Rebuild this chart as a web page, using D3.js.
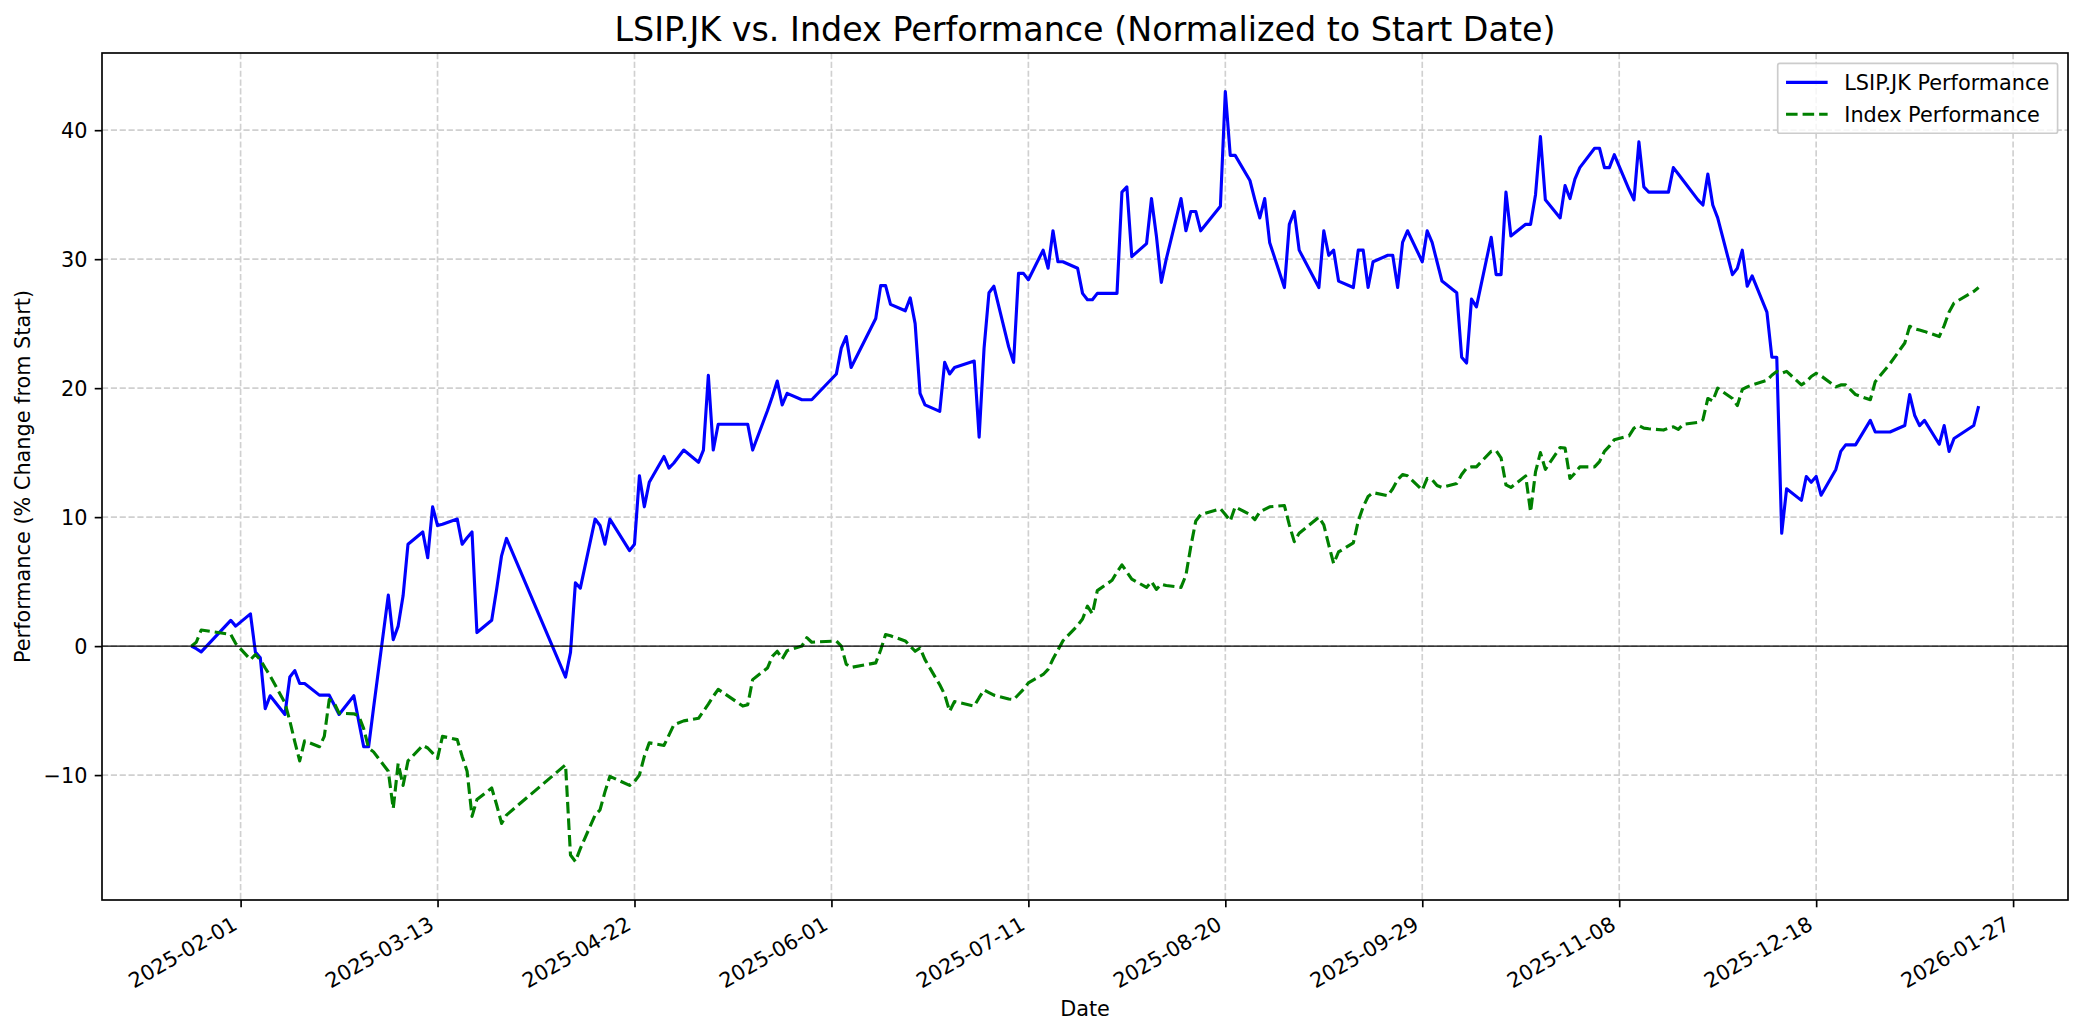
<!DOCTYPE html>
<html>
<head>
<meta charset="utf-8">
<script src="https://cdn.jsdelivr.net/npm/d3@7/dist/d3.min.js"></script>
<style>
html,body{margin:0;padding:0;background:#fff;}
svg{display:block;font-family:"DejaVu Sans",sans-serif;}
</style>
</head>
<body>
<svg id="chart" width="2084" height="1035"></svg>
<script>
// ---------------- DATA ----------------
const dates = [
"2025-01-22","2025-01-23","2025-01-24","2025-01-30","2025-01-31",
"2025-02-03","2025-02-04","2025-02-05","2025-02-06","2025-02-07",
"2025-02-10","2025-02-11","2025-02-12","2025-02-13","2025-02-14",
"2025-02-17","2025-02-18","2025-02-19","2025-02-20","2025-02-21",
"2025-02-24","2025-02-25","2025-02-26","2025-02-27","2025-02-28",
"2025-03-03","2025-03-04","2025-03-05","2025-03-06","2025-03-07",
"2025-03-10","2025-03-11","2025-03-12","2025-03-13","2025-03-14",
"2025-03-17","2025-03-18","2025-03-19","2025-03-20","2025-03-21",
"2025-03-24","2025-03-25","2025-03-26","2025-03-27",
"2025-04-08","2025-04-09","2025-04-10","2025-04-11",
"2025-04-14","2025-04-15","2025-04-16","2025-04-17",
"2025-04-21","2025-04-22","2025-04-23","2025-04-24","2025-04-25",
"2025-04-28","2025-04-29","2025-04-30","2025-05-02",
"2025-05-05","2025-05-06","2025-05-07","2025-05-08","2025-05-09",
"2025-05-14","2025-05-15","2025-05-16",
"2025-05-19","2025-05-20","2025-05-21","2025-05-22","2025-05-23",
"2025-05-26","2025-05-27","2025-05-28",
"2025-06-02","2025-06-03","2025-06-04","2025-06-05",
"2025-06-10","2025-06-11","2025-06-12","2025-06-13",
"2025-06-16","2025-06-17","2025-06-18","2025-06-19","2025-06-20",
"2025-06-23","2025-06-24","2025-06-25","2025-06-26",
"2025-06-30","2025-07-01","2025-07-02","2025-07-03","2025-07-04",
"2025-07-07","2025-07-08","2025-07-09","2025-07-10","2025-07-11",
"2025-07-14","2025-07-15","2025-07-16","2025-07-17","2025-07-18",
"2025-07-21","2025-07-22","2025-07-23","2025-07-24","2025-07-25",
"2025-07-28","2025-07-29","2025-07-30","2025-07-31","2025-08-01",
"2025-08-04","2025-08-05","2025-08-06","2025-08-07","2025-08-08",
"2025-08-11","2025-08-12","2025-08-13","2025-08-14","2025-08-15",
"2025-08-19","2025-08-20","2025-08-21","2025-08-22",
"2025-08-25","2025-08-26","2025-08-27","2025-08-28","2025-08-29",
"2025-09-01","2025-09-02","2025-09-03","2025-09-04",
"2025-09-08","2025-09-09","2025-09-10","2025-09-11","2025-09-12",
"2025-09-15","2025-09-16","2025-09-17","2025-09-18","2025-09-19",
"2025-09-22","2025-09-23","2025-09-24","2025-09-25","2025-09-26",
"2025-09-29","2025-09-30","2025-10-01","2025-10-02","2025-10-03",
"2025-10-06","2025-10-07","2025-10-08","2025-10-09","2025-10-10",
"2025-10-13","2025-10-14","2025-10-15","2025-10-16","2025-10-17",
"2025-10-20","2025-10-21","2025-10-22","2025-10-23","2025-10-24",
"2025-10-27","2025-10-28","2025-10-29","2025-10-30","2025-10-31",
"2025-11-03","2025-11-04","2025-11-05","2025-11-06","2025-11-07",
"2025-11-10","2025-11-11","2025-11-12","2025-11-13","2025-11-14",
"2025-11-17","2025-11-18","2025-11-19","2025-11-20","2025-11-21",
"2025-11-24","2025-11-25","2025-11-26","2025-11-27","2025-11-28",
"2025-12-01","2025-12-02","2025-12-03","2025-12-04","2025-12-05",
"2025-12-08","2025-12-09","2025-12-10","2025-12-11","2025-12-12",
"2025-12-15","2025-12-16","2025-12-17","2025-12-18","2025-12-19",
"2025-12-22","2025-12-23","2025-12-24","2025-12-26",
"2025-12-29","2025-12-30","2026-01-02",
"2026-01-05","2026-01-06","2026-01-07","2026-01-08","2026-01-09",
"2026-01-12","2026-01-13","2026-01-14","2026-01-15",
"2026-01-19","2026-01-20"
];

const lsipPerf = [
0,-0.2,-0.45,2.0,1.55,
2.5,-0.45,-0.9,-4.85,-3.85,
-5.3,-2.4,-1.9,-2.9,-2.9,
-3.8,-3.8,-3.8,-4.55,-5.3,
-3.85,-5.85,-7.8,-7.8,-4.8,
3.95,0.5,1.55,3.9,7.9,
8.85,6.85,10.8,9.35,9.45,
9.85,7.9,8.4,8.85,1.05,
2.0,4.4,7.0,8.35,
-2.4,-0.5,4.9,4.5,
9.85,9.35,7.9,9.85,
7.4,7.9,13.2,10.8,12.7,
14.7,13.8,14.2,15.2,
14.25,15.2,21.0,15.2,17.2,
17.2,17.2,15.2,
18.25,19.35,20.55,18.7,19.6,
19.1,19.1,19.1,
21.1,23.1,24.0,21.6,
25.4,27.95,27.95,26.5,
26.0,27.0,25.0,19.6,18.7,
18.2,22.0,21.1,21.6,
22.1,16.2,23.1,27.4,27.9,
23.2,22.0,28.9,28.9,28.4,
30.7,29.3,32.2,29.8,29.8,
29.3,27.35,26.85,26.85,27.35,
27.35,27.35,35.2,35.6,30.2,
31.2,34.7,31.8,28.2,30.0,
34.7,32.2,33.7,33.7,32.2,
34.1,43.0,38.05,38.05,
36.1,34.6,33.2,34.7,31.3,
27.8,32.7,33.7,30.7,
27.8,32.2,30.3,30.7,28.3,
27.8,30.7,30.7,27.8,29.8,
30.3,30.3,27.8,31.3,32.2,
29.8,32.2,31.3,29.8,28.3,
27.4,22.4,21.95,26.9,26.3,
31.7,28.8,28.8,35.2,31.8,
32.7,32.7,35.0,39.5,34.6,
33.2,35.7,34.7,36.2,37.1,
38.6,38.6,37.1,37.1,38.1,
35.4,34.6,39.1,35.6,35.2,
35.2,35.2,37.1,36.6,36.1,
34.6,34.2,36.6,34.2,33.2,
28.8,29.3,30.7,27.9,28.7,
25.9,22.4,22.4,8.75,12.2,
11.3,13.15,12.7,13.15,11.7,
13.7,15.1,15.6,15.6,
17.5,16.6,16.6,
17.1,19.5,17.9,17.1,17.5,
15.65,17.1,15.1,16.1,
17.1,18.6
];

const indexPerf = [
0,0.3,1.25,0.9,0.2,
-1.05,-0.65,-1.05,-1.7,-2.3,
-4.4,-5.8,-7.4,-8.9,-7.35,
-7.8,-7.0,-4.15,-4.4,-5.2,
-5.25,-5.4,-6.4,-7.9,-8.2,
-9.7,-12.6,-9.1,-10.8,-8.9,
-7.7,-7.9,-8.3,-8.7,-7.0,
-7.25,-8.55,-9.7,-13.2,-11.9,
-11.0,-12.3,-13.75,-13.1,
-9.2,-16.2,-16.7,-15.7,
-13.1,-12.7,-11.3,-10.1,
-10.8,-10.5,-10.0,-8.55,-7.5,
-7.7,-6.9,-6.1,-5.8,
-5.6,-5.05,-4.5,-3.9,-3.35,
-4.65,-4.55,-2.6,
-1.7,-0.8,-0.4,-1.0,-0.35,
0.0,0.65,0.3,
0.4,0.0,-1.4,-1.65,
-1.3,-0.3,0.9,0.8,
0.4,0.0,-0.4,-0.15,-1.05,
-3.0,-3.75,-5.05,-4.3,
-4.65,-4.0,-3.4,-3.6,-3.8,
-4.1,-4.15,-3.75,-3.35,-2.85,
-2.2,-1.8,-1.0,-0.3,0.4,
1.6,2.1,3.1,2.5,4.3,
5.1,5.75,6.3,5.75,5.2,
4.55,5.0,4.4,4.8,4.7,
4.55,5.5,7.75,9.7,10.2,
10.65,10.2,9.7,10.8,
10.2,9.8,10.4,10.6,10.8,
10.9,9.4,8.1,8.75,
10.0,9.4,7.85,6.4,7.3,
8.0,9.7,10.8,11.6,11.9,
11.65,12.2,12.9,13.3,13.2,
12.1,13.0,12.9,12.45,12.3,
12.6,13.3,13.8,13.9,13.9,
15.1,15.15,14.6,12.5,12.3,
13.2,10.4,13.5,15.0,13.7,
15.4,15.35,13.0,13.4,13.9,
13.9,14.3,15.1,15.5,16.0,
16.3,16.9,17.1,16.9,16.85,
16.75,16.9,17.0,16.8,17.2,
17.35,17.55,19.2,19.0,20.0,
19.2,18.65,19.9,20.1,20.25,
20.6,21.0,21.3,21.15,21.3,
20.25,20.5,20.9,21.15,20.95,
20.1,20.25,20.25,19.5,
19.1,20.5,21.9,
23.5,24.8,24.6,24.5,24.4,
24.0,24.85,25.9,26.6,
27.5,27.8
];

const xTickLabels = ["2025-02-01","2025-03-13","2025-04-22","2025-06-01","2025-07-11",
  "2025-08-20","2025-09-29","2025-11-08","2025-12-18","2026-01-27"];
const yTickValues = [-10, 0, 10, 20, 30, 40];
const seriesNames = ["LSIP.JK Performance", "Index Performance"];
const titleText = "LSIP.JK vs. Index Performance (Normalized to Start Date)";
const xLabelText = "Date";
const yLabelText = "Performance (% Change from Start)";

// ---------------- LAYOUT ----------------
const W = 2084, H = 1035;
const m = {left: 102, right: 16, top: 53, bottom: 135};
const iw = W - m.left - m.right, ih = H - m.top - m.bottom;
const FS = 20.8;           // 10pt at 150 dpi
const PT = 150 / 72;

const parse = d3.utcParse("%Y-%m-%d");
const fmt = d3.utcFormat("%Y-%m-%d");
const xs = dates.map(parse);

const t0 = xs[0].getTime(), t1 = xs[xs.length - 1].getTime();
const tpad = (t1 - t0) * 0.05;
const x = d3.scaleUtc().domain([new Date(t0 - tpad), new Date(t1 + tpad)]).range([m.left, m.left + iw]);

const allV = lsipPerf.concat(indexPerf);
const vmin = d3.min(allV), vmax = d3.max(allV);
const vpad = (vmax - vmin) * 0.05;
const y = d3.scaleLinear().domain([vmin - vpad, vmax + vpad]).range([m.top + ih, m.top]);

const svg = d3.select("#chart");
svg.append("rect").attr("width", W).attr("height", H).attr("fill", "#fff");

// clip
svg.append("defs").append("clipPath").attr("id", "clip")
  .append("rect").attr("x", m.left).attr("y", m.top).attr("width", iw).attr("height", ih);

// grid
const gridColor = "#d0d0d0";
const gridW = 0.8 * PT;
const gridDash = `${(3.7 * 0.8 * PT).toFixed(2)},${(1.6 * 0.8 * PT).toFixed(2)}`;
const xTickDates = xTickLabels.map(parse);
const grid = svg.append("g").attr("clip-path", "url(#clip)");
grid.selectAll("line.gx").data(xTickDates).join("line")
  .attr("x1", d => x(d)).attr("x2", d => x(d))
  .attr("y1", m.top).attr("y2", m.top + ih)
  .attr("stroke", gridColor).attr("stroke-width", gridW).attr("stroke-dasharray", gridDash);
grid.selectAll("line.gy").data(yTickValues).join("line")
  .attr("x1", m.left).attr("x2", m.left + iw)
  .attr("y1", d => y(d)).attr("y2", d => y(d))
  .attr("stroke", gridColor).attr("stroke-width", gridW).attr("stroke-dasharray", gridDash);

// lines
const lineGen = vals => d3.line().x((d, i) => x(xs[i])).y(d => y(d))(vals);
const plotG = svg.append("g").attr("clip-path", "url(#clip)");
plotG.append("path").attr("d", lineGen(lsipPerf))
  .attr("fill", "none").attr("stroke", "#0000ff").attr("stroke-width", 1.5 * PT)
  .attr("stroke-linejoin", "round").attr("stroke-linecap", "butt");
const dashG = `${(3.7 * 1.5 * PT).toFixed(2)},${(1.6 * 1.5 * PT).toFixed(2)}`;
plotG.append("path").attr("d", lineGen(indexPerf))
  .attr("fill", "none").attr("stroke", "#008000").attr("stroke-width", 1.5 * PT)
  .attr("stroke-dasharray", dashG).attr("stroke-linejoin", "round");

// zero line
plotG.append("line").attr("x1", m.left).attr("x2", m.left + iw)
  .attr("y1", y(0)).attr("y2", y(0)).attr("stroke", "#000").attr("stroke-width", 0.5 * PT);

// axes
const tickLen = 3.5 * PT, tickPad = 3.5 * PT;
const xAxis = d3.axisBottom(x).tickValues(xTickDates).tickFormat(fmt).tickSize(tickLen).tickPadding(tickPad);
const gx = svg.append("g").attr("transform", `translate(0,${m.top + ih})`).call(xAxis);
gx.select(".domain").remove();
gx.selectAll(".tick line").attr("stroke", "#000").attr("stroke-width", 0.8 * PT);
gx.selectAll(".tick text")
  .attr("font-size", FS).attr("font-family", "DejaVu Sans").attr("fill", "#000")
  .attr("text-anchor", "end")
  .attr("y", null).attr("dy", null)
  .attr("transform", `translate(${-0.24 * FS * 0.5},${tickLen + tickPad + 0.866 * 0.76 * FS}) rotate(-30)`);

const yAxis = d3.axisLeft(y).tickValues(yTickValues)
  .tickFormat(d => d < 0 ? "\u2212" + Math.abs(d) : String(d))
  .tickSize(tickLen).tickPadding(tickPad);
const gy = svg.append("g").attr("transform", `translate(${m.left},0)`).call(yAxis);
gy.select(".domain").remove();
gy.selectAll(".tick line").attr("stroke", "#000").attr("stroke-width", 0.8 * PT);
gy.selectAll(".tick text").attr("font-size", FS).attr("font-family", "DejaVu Sans")
  .attr("fill", "#000").attr("dy", "0.36em");

// frame
svg.append("rect").attr("x", m.left).attr("y", m.top).attr("width", iw).attr("height", ih)
  .attr("fill", "none").attr("stroke", "#000").attr("stroke-width", 0.8 * PT);

// title & labels
svg.append("text").attr("x", m.left + iw / 2).attr("y", m.top - 6 * PT)
  .attr("text-anchor", "middle").attr("font-size", 16 * PT).attr("fill", "#000").text(titleText);
svg.append("text").attr("x", m.left + iw / 2).attr("y", 1016)
  .attr("text-anchor", "middle").attr("font-size", FS).attr("fill", "#000").text(xLabelText);
svg.append("text").attr("transform", `translate(30,${m.top + ih / 2}) rotate(-90)`)
  .attr("text-anchor", "middle").attr("font-size", FS).attr("fill", "#000").text(yLabelText);

// legend
const bp = 0.4 * FS, ls = 0.5 * FS, hl = 2.0 * FS, htp = 0.8 * FS, bap = 0.5 * FS;
const rowH = 1.03 * FS;
const lg = svg.append("g");
const box = lg.append("rect");
const texts = seriesNames.map((n, i) => lg.append("text").attr("font-size", FS).attr("fill", "#000").text(n));
const tw = d3.max(texts, t => t.node().getComputedTextLength());
const bw = bp * 2 + hl + htp + tw;
const bh = bp * 2 + rowH * 2 + ls;
const bx = m.left + iw - bap - bw, by = m.top + bap;
box.attr("x", bx).attr("y", by).attr("width", bw).attr("height", bh).attr("rx", 0.2 * FS * 0.5)
  .attr("fill", "#fff").attr("fill-opacity", 0.8).attr("stroke", "#cccccc").attr("stroke-width", 0.8 * PT);
const styles = [{c: "#0000ff", d: null}, {c: "#008000", d: dashG}];
seriesNames.forEach((n, i) => {
  const cy = by + bp + rowH / 2 + i * (rowH + ls);
  const ln = lg.append("line").attr("x1", bx + bp).attr("x2", bx + bp + hl)
    .attr("y1", cy).attr("y2", cy).attr("stroke", styles[i].c).attr("stroke-width", 1.5 * PT);
  if (styles[i].d) ln.attr("stroke-dasharray", styles[i].d);
  texts[i].attr("x", bx + bp + hl + htp).attr("y", cy).attr("dy", "0.36em");
});
</script>
</body>
</html>
